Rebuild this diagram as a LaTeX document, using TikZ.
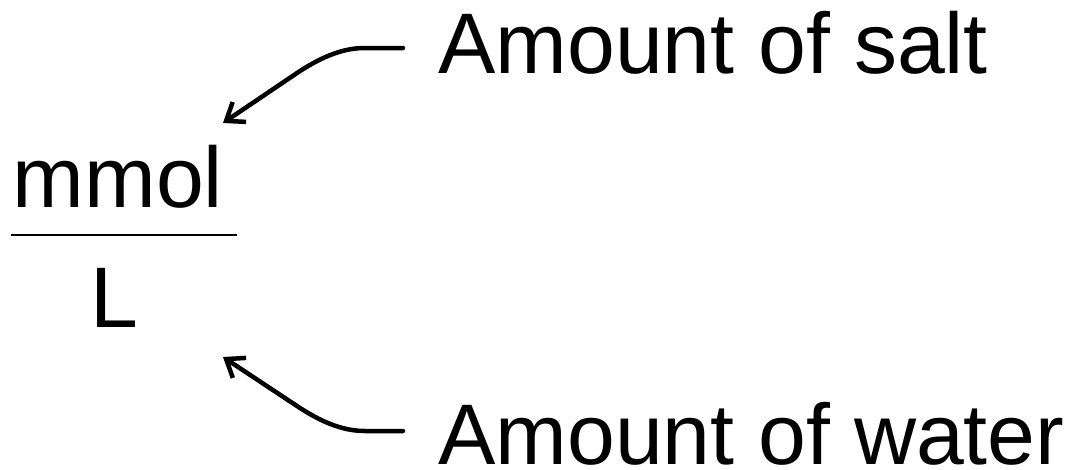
\documentclass[tikz,border=0pt]{standalone}
\usepackage{fontspec}
\setmainfont{Liberation Sans}
\usetikzlibrary{arrows.meta}
\begin{document}
\begin{tikzpicture}[x=1pt,y=-1pt,
  bigtext/.style={inner sep=0pt,anchor=base,font=\fontsize{86}{100}\selectfont},
  labeltext/.style={inner sep=0pt,anchor=base west,font=\fontsize{86}{100}\selectfont},
  pointer/.style={line width=4.5pt,line cap=round,line join=round,-{Straight Barb[length=16pt,width=24pt,line width=4.5pt]}},
  fracline/.style={line width=2.5pt}]
\useasboundingbox (0,0) rectangle (1066,469);
\node[bigtext] (num) at (118,207) {mmol};
\node[bigtext] (den) at (114.6,327) {L};
\coordinate (fl) at (11,235);
\coordinate (fr) at (237,235);
\draw[fracline] (fl) -- (fr);
\node[labeltext] (salt) at (438,73) {Amount of salt};
\node[labeltext] (water) at (438,464) {Amount of water};
\coordinate (s1) at (403,48);
\coordinate (t1) at (223,123);
\coordinate (s2) at (403,431);
\coordinate (t2) at (223,357);
\draw[pointer] (s1) -- (365,48) .. controls (345,48) and (325,55) .. (300,71) -- (t1);
\draw[pointer] (s2) -- (365,431) .. controls (345,431) and (325,424) .. (300,408) -- (t2);
\end{tikzpicture}
\end{document}
